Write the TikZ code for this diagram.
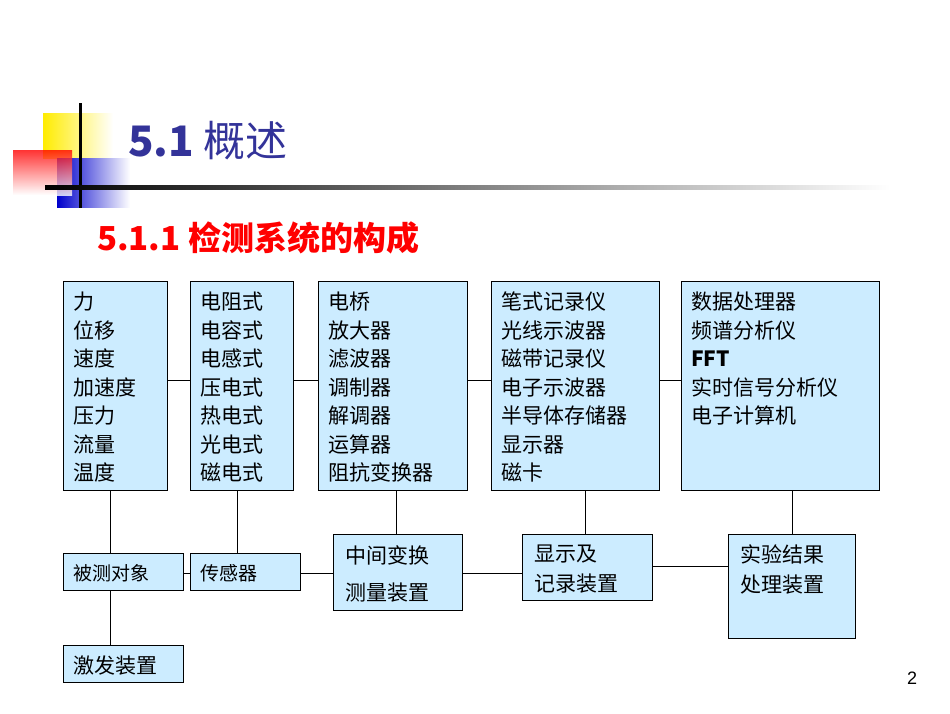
\documentclass[tikz,border=0pt]{standalone}
\usepackage{fontspec}
\setmainfont{Liberation Sans}
\newfontfamily\cjk{Noto Sans CJK SC}
\usetikzlibrary{positioning}
\definecolor{boxfill}{HTML}{CCECFF}
\definecolor{titleblue}{HTML}{333399}
\tikzset{
 bx/.style={draw=black,fill=boxfill,line width=0.8pt},
 txt/.style={anchor=north west,inner sep=0pt,align=left,font=\cjk\fontsize{21}{28.5}\selectfont},
 ln/.style={line width=0.8pt}
}
\begin{document}
\begin{tikzpicture}[x=1pt,y=-1pt]
\useasboundingbox (0,0) rectangle (950,713);
% decoration
\shade[left color=yellow!85!orange,right color=white] (43,113) rectangle (113,158);
\shade[left color=blue!80!black,right color=white] (57,158) rectangle (130,207);
\shade[top color=red,bottom color=white,opacity=0.8] (13,150) rectangle (72,195);
\draw[line width=3pt] (80,103) -- (80,208);
\shade[left color=black,right color=white] (45,185.5) rectangle (890,189);
\node[anchor=west,inner sep=0pt,text=titleblue,font=\cjk\fontsize{42}{44}\selectfont] (t1) at (128,141) {\textbf{5.1} 概述};
\node[anchor=west,inner sep=0pt,text=red,font=\cjk\bfseries\fontsize{33}{35}\selectfont] (t2) at (97,238) {5.1.1 检测系统的构成};
% top boxes
\draw[bx] (63,281) rectangle (167,490);
\draw[bx] (190,281) rectangle (293,490);
\draw[bx] (318,281) rectangle (467,490);
\draw[bx] (491,281) rectangle (659,490);
\draw[bx] (681,281) rectangle (879,490);
\node[txt] (n1) at (73,292) {力\\位移\\速度\\加速度\\压力\\流量\\温度};
\node[txt] (n2) at (200,292) {电阻式\\电容式\\电感式\\压电式\\热电式\\光电式\\磁电式};
\node[txt] (n3) at (328,292) {电桥\\放大器\\滤波器\\调制器\\解调器\\运算器\\阻抗变换器};
\node[txt] (n4) at (501,292) {笔式记录仪\\光线示波器\\磁带记录仪\\电子示波器\\半导体存储器\\显示器\\磁卡};
\node[txt] (n5) at (691,292) {数据处理器\\频谱分析仪\\\textbf{FFT}\\实时信号分析仪\\电子计算机};
\coordinate (r1) at (167,380); \coordinate (l2) at (190,380);
\coordinate (r2) at (293,380); \coordinate (l3) at (318,380);
\coordinate (r3) at (467,380); \coordinate (l4) at (491,380);
\coordinate (r4) at (659,380); \coordinate (l5) at (681,380);
\draw[ln] (r1)--(l2) (r2)--(l3) (r3)--(l4) (r4)--(l5);
% bottom boxes
\draw[bx] (63,553) rectangle (183,590);
\draw[bx] (190,553) rectangle (300,590);
\draw[bx] (333,534) rectangle (462,610);
\draw[bx] (522,534) rectangle (652,600);
\draw[bx] (728,534) rectangle (855,638);
\draw[bx] (63,645) rectangle (183,682);
\node[txt,font=\cjk\fontsize{19}{30}\selectfont] (m1) at (73,564) {被测对象};
\node[txt,font=\cjk\fontsize{19}{30}\selectfont] (m2) at (200,564) {传感器};
\node[txt,font=\cjk\fontsize{21}{37}\selectfont] (m3) at (345,545) {中间变换\\测量装置};
\node[txt,font=\cjk\fontsize{21}{30}\selectfont] (m4) at (534,545) {显示及\\记录装置};
\node[txt,font=\cjk\fontsize{21}{30}\selectfont] (m5) at (740,545) {实验结果\\处理装置};
\node[txt,font=\cjk\fontsize{21}{30}\selectfont] (m6) at (73,656) {激发装置};
\draw[ln] (110,490)--(110,553) (110,590)--(110,645);
\draw[ln] (237,490)--(237,553);
\draw[ln] (396,490)--(396,534);
\draw[ln] (585,490)--(585,534);
\draw[ln] (792,490)--(792,534);
\draw[ln] (183,573)--(190,573) (300,573)--(333,573) (462,573)--(522,573) (652,566)--(728,566);
\node[anchor=center,inner sep=0pt,font=\fontsize{18}{20}\selectfont] (pg) at (912,678) {2};
\end{tikzpicture}
\end{document}
